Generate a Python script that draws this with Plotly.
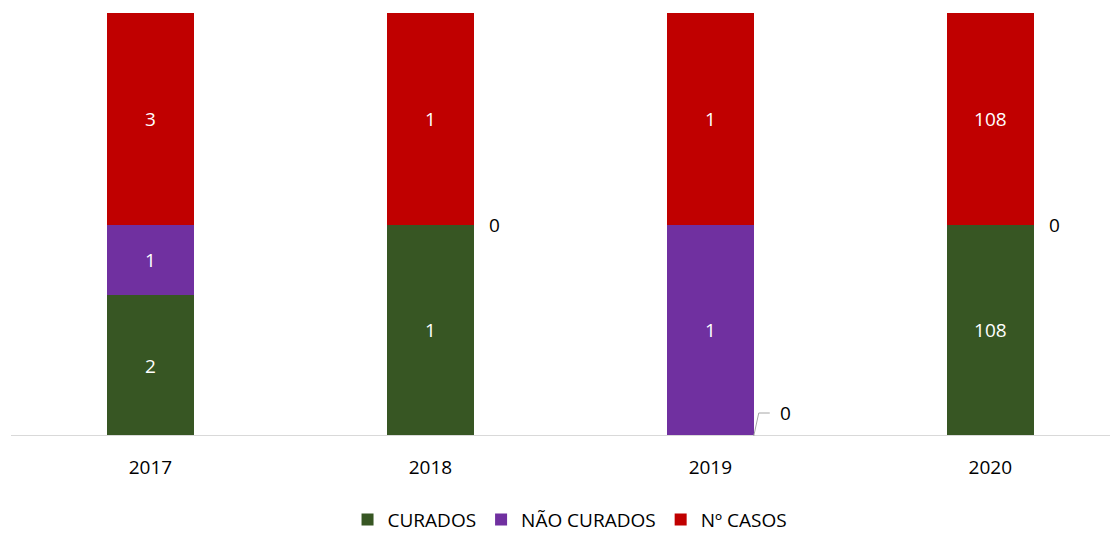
import plotly.graph_objects as go

years = ["2017", "2018", "2019", "2020"]
curados = [2, 1, 0, 108]
nao_curados = [1, 0, 1, 0]
n_casos = [3, 1, 1, 108]

colors = {"CURADOS": "#375623", "NÃO CURADOS": "#7030A0", "Nº CASOS": "#C00000"}
FONT = "Open Sans"
FS = 19

xs = list(range(len(years)))
fig = go.Figure()
for name, vals in [("CURADOS", curados), ("NÃO CURADOS", nao_curados), ("Nº CASOS", n_casos)]:
    fig.add_trace(go.Bar(
        x=xs, y=vals, name=name,
        marker=dict(color=colors[name], line=dict(width=0)),
        width=0.31,
        text=[str(v) if v != 0 else "" for v in vals],
        textposition="inside", insidetextanchor="middle",
        textfont=dict(color="white", size=FS, family=FONT),
        hoverinfo="skip",
    ))

fig.update_layout(
    barmode="stack", barnorm="percent",
    width=1118, height=560,
    margin=dict(l=3, r=8, t=5, b=132),
    plot_bgcolor="white", paper_bgcolor="white",
    font=dict(family=FONT, size=FS, color="#000000"),
    showlegend=True,
    legend=dict(orientation="h", x=0.505, xanchor="center", y=-0.153, yanchor="top",
                font=dict(size=19, family=FONT, color="#000000"), traceorder="normal",
                itemwidth=30),
    xaxis=dict(range=[-0.498, 3.456], tickvals=xs, ticktext=years, showgrid=False,
               showline=False, zeroline=False, ticks="", ticklabelstandoff=18,
               tickfont=dict(size=FS, color="#000000")),
    yaxis=dict(range=[0, 100], visible=False, showgrid=False),
)

# axis baseline
fig.add_shape(type="line", xref="paper", yref="y", x0=0, x1=1, y0=0, y1=0,
              line=dict(color="#d9d9d9", width=2))

# zero-value labels (outside)
px = 1 / 280
for i, (c, n) in enumerate(zip(curados, nao_curados)):
    total = curados[i] + nao_curados[i] + n_casos[i]
    if n == 0:
        yv = (curados[i]) / total * 100
        fig.add_annotation(x=i + 64 * px, y=yv, text="0", showarrow=False,
                           font=dict(size=FS, color="#000000", family=FONT))
    if c == 0:
        yv = 23 / 423 * 100
        x0 = i + 0.155
        fig.add_shape(type="path", xref="x", yref="y",
                      path=f"M {x0},0 L {x0 + 5*px},{yv} L {x0 + 16*px},{yv}",
                      line=dict(color="#a6a6a6", width=1))
        fig.add_annotation(x=i + 75 * px, y=yv, text="0", showarrow=False,
                           font=dict(size=FS, color="#000000", family=FONT))

fig.write_html("out.html")
